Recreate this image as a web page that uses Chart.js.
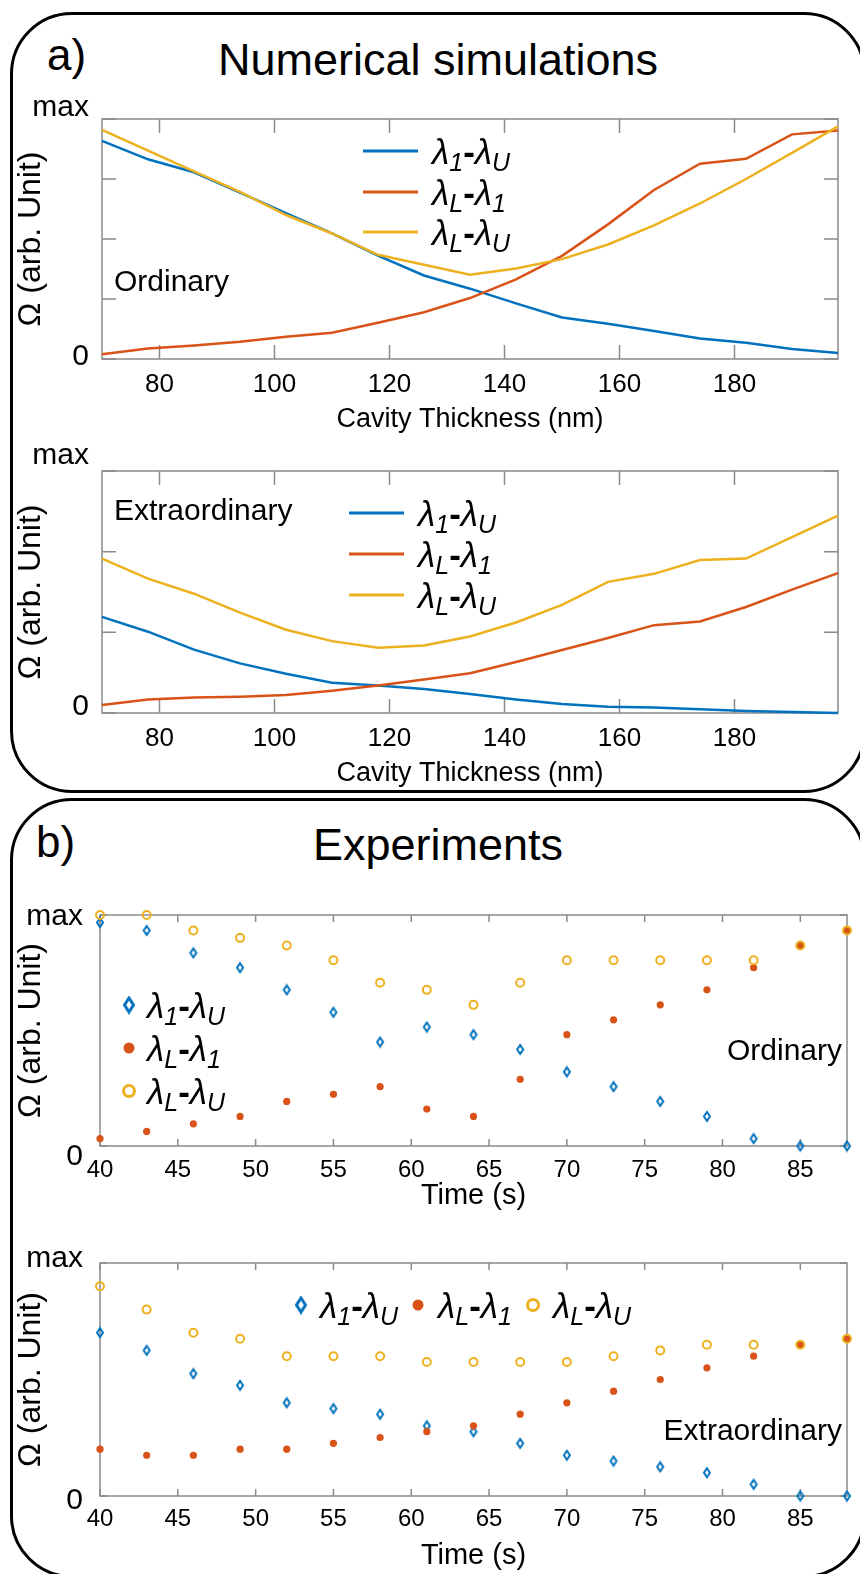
<!DOCTYPE html>
<html>
<head>
<meta charset="utf-8">
<script src="https://cdn.jsdelivr.net/npm/chart.js@4.4.1/dist/chart.umd.min.js"></script>
<style>
html, body { margin: 0; padding: 0; background: #fff; overflow: hidden; }
body { width: 860px; height: 1574px; position: relative; font-family: "Liberation Sans", Arial, sans-serif; }
.panel { position: absolute; left: 10px; width: 856px; border: 3px solid #000; border-radius: 62px; box-sizing: border-box; }
#panelA { top: 12px; height: 781px; }
#panelB { top: 798px; height: 780px; }
.tag { position: absolute; font-size: 44px; line-height: 1; }
.head { position: absolute; left: 0; width: 876px; text-align: center; font-size: 45px; line-height: 1; }
canvas { position: absolute; left: 0; }
</style>
</head>
<body>
<div class="panel" id="panelA"></div>
<div class="panel" id="panelB"></div>
<div class="tag" style="left:47px;top:33px">a)</div>
<div class="head" style="top:37px">Numerical simulations</div>
<div class="tag" style="left:36px;top:820px">b)</div>
<div class="head" style="top:822px">Experiments</div>

<canvas id="simOrd" width="860" height="352" style="top:88px"></canvas>
<canvas id="simExt" width="860" height="350" style="top:440px"></canvas>
<canvas id="expOrd" width="860" height="335" style="top:880px"></canvas>
<canvas id="expExt" width="860" height="346" style="top:1228px"></canvas>

<script>
// ---- data ----
const thickness = [70, 78, 86, 94, 102, 110, 118, 126, 134, 142, 150, 158, 166, 174, 182, 190, 198];
const thicknessTicks = [80, 100, 120, 140, 160, 180];

const simOrd1U = [0.909, 0.832, 0.778, 0.693, 0.608, 0.523, 0.431, 0.348, 0.293, 0.232, 0.173, 0.147, 0.117, 0.085, 0.068, 0.042, 0.025];
const simOrdL1 = [0.020, 0.044, 0.056, 0.072, 0.093, 0.109, 0.151, 0.195, 0.254, 0.332, 0.430, 0.561, 0.704, 0.814, 0.834, 0.936, 0.952];
const simOrdLU = [0.955, 0.868, 0.782, 0.696, 0.600, 0.523, 0.434, 0.393, 0.351, 0.377, 0.416, 0.477, 0.557, 0.648, 0.750, 0.859, 0.969];

const simExt1U = [0.397, 0.336, 0.262, 0.205, 0.162, 0.125, 0.114, 0.099, 0.079, 0.056, 0.037, 0.026, 0.023, 0.016, 0.008, 0.004, 0.000];
const simExtL1 = [0.033, 0.056, 0.064, 0.067, 0.074, 0.092, 0.114, 0.138, 0.164, 0.211, 0.260, 0.310, 0.363, 0.378, 0.438, 0.510, 0.578];
const simExtLU = [0.638, 0.555, 0.493, 0.415, 0.344, 0.297, 0.270, 0.279, 0.316, 0.374, 0.447, 0.542, 0.575, 0.632, 0.638, 0.727, 0.816];

const time = [40, 43, 46, 49, 52, 55, 58, 61, 64, 67, 70, 73, 76, 79, 82, 85, 88];
const timeTicks = [40, 45, 50, 55, 60, 65, 70, 75, 80, 85];

const expOrd1U = [0.967, 0.933, 0.836, 0.772, 0.676, 0.579, 0.450, 0.515, 0.482, 0.418, 0.321, 0.257, 0.193, 0.128, 0.032, 0, 0];
const expOrdL1 = [0.032, 0.063, 0.096, 0.128, 0.193, 0.224, 0.257, 0.160, 0.128, 0.289, 0.482, 0.546, 0.611, 0.676, 0.772, 0.868, 0.933];
const expOrdLU = [1, 1, 0.933, 0.901, 0.868, 0.804, 0.707, 0.676, 0.611, 0.707, 0.804, 0.804, 0.804, 0.804, 0.804, 0.868, 0.933];

const expExt1U = [0.701, 0.625, 0.525, 0.475, 0.400, 0.375, 0.351, 0.301, 0.276, 0.226, 0.175, 0.150, 0.125, 0.100, 0.050, 0, 0];
const expExtL1 = [0.201, 0.175, 0.175, 0.201, 0.201, 0.226, 0.251, 0.276, 0.301, 0.351, 0.400, 0.450, 0.500, 0.550, 0.600, 0.649, 0.675];
const expExtLU = [0.900, 0.800, 0.701, 0.675, 0.600, 0.600, 0.600, 0.575, 0.575, 0.575, 0.575, 0.600, 0.625, 0.649, 0.649, 0.649, 0.675];

const seriesNames = ["λ_1-λ_U", "λ_L-λ_1", "λ_L-λ_U"];
const yTicksQuarter = [0, 0.25, 0.5, 0.75, 1];
const yTicksThird = [0, 1 / 3, 2 / 3, 1];
const yTicksEnds = [0, 1];

const BLUE = "#0072BD";
const RED = "#D95319";
const YELLOW = "#EDB120";
const FONT = '"Liberation Sans", Arial, sans-serif';

Chart.defaults.font.family = FONT;
Chart.defaults.color = "#000";

function pairs(xs, ys) {
    return xs.map((x, i) => ({ x: x, y: ys[i] }));
}

function diamond(w, h, lw, color) {
    const c = document.createElement("canvas");
    c.width = w + lw + 2;
    c.height = h + lw + 2;
    const g = c.getContext("2d");
    const cx = c.width / 2, cy = c.height / 2;
    g.strokeStyle = color;
    g.lineWidth = lw;
    g.beginPath();
    g.moveTo(cx, cy - h / 2);
    g.lineTo(cx + w / 2, cy);
    g.lineTo(cx, cy + h / 2);
    g.lineTo(cx - w / 2, cy);
    g.closePath();
    g.stroke();
    return c;
}

const diamondMark = diamond(6, 9, 2, BLUE);
const diamondKey = diamond(9, 14, 3, BLUE);

// "λ_1" -> λ with subscript 1
function richText(ctx, str, x, y, size) {
    const base = y + size * 0.36;
    ctx.fillStyle = "#000";
    ctx.textBaseline = "alphabetic";
    ctx.textAlign = "left";
    for (let i = 0; i < str.length; i++) {
        let ch = str[i], sub = false;
        if (ch === "_") { sub = true; ch = str[++i]; }
        const fs = sub ? Math.round(size * 0.72) : size;
        ctx.font = (ch === "-" ? "bold " : "italic ") + fs + "px " + FONT;
        ctx.fillText(ch, x, sub ? base + size * 0.2 : base);
        x += ctx.measureText(ch).width;
    }
}

const framePlugin = {
    id: "frame",
    beforeDatasetsDraw(chart, args, opts) {
        const { ctx, chartArea: a, scales } = chart;
        const len = opts.tick;
        ctx.save();
        ctx.strokeStyle = "#8a8a8a";
        ctx.lineWidth = 1.5;
        ctx.strokeRect(a.left, a.top, a.right - a.left, a.bottom - a.top);
        ctx.beginPath();
        scales.x.ticks.forEach(t => {
            const px = scales.x.getPixelForValue(t.value);
            ctx.moveTo(px, a.bottom); ctx.lineTo(px, a.bottom - len);
            ctx.moveTo(px, a.top); ctx.lineTo(px, a.top + len);
        });
        scales.y.ticks.forEach(t => {
            const py = scales.y.getPixelForValue(t.value);
            ctx.moveTo(a.left, py); ctx.lineTo(a.left + len, py);
            ctx.moveTo(a.right, py); ctx.lineTo(a.right - len, py);
        });
        ctx.stroke();
        ctx.restore();
    }
};

const keyPlugin = {
    id: "key",
    afterDatasetsDraw(chart, args, opts) {
        if (!opts.items) return;
        const { ctx, chartArea: a } = chart;
        ctx.save();
        opts.items.forEach((it, i) => {
            const ds = chart.data.datasets[i];
            const y = a.top + it.y;
            if (opts.kind === "line") {
                ctx.strokeStyle = ds.borderColor;
                ctx.lineWidth = 3;
                ctx.beginPath();
                ctx.moveTo(a.left + it.x0, y);
                ctx.lineTo(a.left + it.x1, y);
                ctx.stroke();
            } else {
                const st = opts.marks[i];
                ctx.fillStyle = ds.backgroundColor;
                ctx.strokeStyle = ds.borderColor;
                ctx.lineWidth = st.borderWidth;
                Chart.helpers.drawPoint(ctx, st, a.left + it.mx, y);
            }
            richText(ctx, seriesNames[i], a.left + it.tx, y, opts.size);
        });
        ctx.restore();
    }
};

const notePlugin = {
    id: "note",
    afterDatasetsDraw(chart, args, opts) {
        if (!opts.text) return;
        const { ctx, chartArea: a } = chart;
        ctx.save();
        ctx.font = opts.size + "px " + FONT;
        ctx.fillStyle = "#000";
        ctx.textBaseline = "middle";
        ctx.textAlign = opts.align;
        const x = opts.align === "right" ? a.right - opts.x : a.left + opts.x;
        ctx.fillText(opts.text, x, a.top + opts.y);
        ctx.restore();
    }
};

function lineSets(xs, a, b, c) {
    const base = { fill: false, borderWidth: 2.5, pointRadius: 0, tension: 0, clip: false };
    return [
        Object.assign({ data: pairs(xs, a), borderColor: BLUE, backgroundColor: BLUE, order: 3 }, base),
        Object.assign({ data: pairs(xs, b), borderColor: RED, backgroundColor: RED, order: 2 }, base),
        Object.assign({ data: pairs(xs, c), borderColor: YELLOW, backgroundColor: YELLOW, order: 1 }, base)
    ];
}

function dotSets(xs, a, b, c) {
    return [
        { data: pairs(xs, a), pointStyle: diamondMark, pointRadius: 5, borderColor: BLUE, backgroundColor: "rgba(0,0,0,0)", order: 3, clip: false },
        { data: pairs(xs, b), pointStyle: "circle", pointRadius: 3.6, borderWidth: 0, borderColor: RED, backgroundColor: RED, order: 2, clip: false },
        { data: pairs(xs, c), pointStyle: "circle", pointRadius: 4, borderWidth: 2, borderColor: YELLOW, backgroundColor: "rgba(0,0,0,0)", order: 1, clip: false }
    ];
}

const keyMarks = [
    { pointStyle: diamondKey, radius: 7, borderWidth: 0, rotation: 0 },
    { pointStyle: "circle", radius: 5.5, borderWidth: 0, rotation: 0 },
    { pointStyle: "circle", radius: 5.5, borderWidth: 3, rotation: 0 }
];

function makeChart(id, c) {
    return new Chart(document.getElementById(id), {
        type: c.type,
        data: { datasets: c.datasets },
        options: {
            responsive: false,
            animation: false,
            devicePixelRatio: 1,
            events: [],
            layout: { padding: { top: c.padTop, right: c.padRight, left: 0, bottom: 0 } },
            plugins: {
                legend: { display: false },
                tooltip: { enabled: false },
                frame: { tick: c.tickLen },
                key: c.key,
                note: c.note
            },
            scales: {
                x: {
                    type: "linear",
                    min: c.xMin,
                    max: c.xMax,
                    afterBuildTicks: s => { s.ticks = c.xTicks.map(v => ({ value: v })); },
                    afterFit: s => { s.height = c.xHeight; },
                    grid: { display: false, drawTicks: false },
                    border: { display: false },
                    ticks: { font: { size: c.xFont }, padding: c.xPad, maxRotation: 0, autoSkip: false },
                    title: {
                        display: true,
                        text: c.xTitle,
                        font: { size: c.xTitleSize },
                        padding: { top: 0, bottom: c.xTitlePad }
                    }
                },
                y: {
                    type: "linear",
                    min: 0,
                    max: 1,
                    afterBuildTicks: s => { s.ticks = c.yTicks.map(v => ({ value: v })); },
                    afterFit: s => { s.width = c.yWidth; },
                    grid: { display: false, drawTicks: false },
                    border: { display: false },
                    ticks: {
                        font: { size: 30, lineHeight: 0.6 },
                        padding: c.yPad,
                        labelOffset: c.yShift,
                        autoSkip: false,
                        callback: v => (v === 0 ? "0" : v === 1 ? ["max", ""] : "")
                    },
                    title: {
                        display: true,
                        text: "Ω (arb. Unit)",
                        font: { size: 32 },
                        padding: { top: 12, bottom: 0 }
                    }
                }
            }
        },
        plugins: [framePlugin, keyPlugin, notePlugin]
    });
}

makeChart("simOrd", {
    type: "line",
    datasets: lineSets(thickness, simOrd1U, simOrdL1, simOrdLU),
    padTop: 27, padRight: 22, xHeight: 81, yWidth: 102, tickLen: 14,
    xMin: 70, xMax: 198, xTicks: thicknessTicks, xFont: 26, xPad: 10,
    xTitle: "Cavity Thickness (nm)", xTitleSize: 27, xTitlePad: 4,
    yTicks: yTicksQuarter, yPad: 13, yShift: -2,
    key: { kind: "line", size: 35, items: [
        { x0: 261, x1: 316, tx: 330, y: 32 },
        { x0: 261, x1: 316, tx: 330, y: 73 },
        { x0: 261, x1: 316, tx: 330, y: 113 }
    ] },
    note: { text: "Ordinary", x: 12, y: 164, align: "left", size: 30 }
});

makeChart("simExt", {
    type: "line",
    datasets: lineSets(thickness, simExt1U, simExtL1, simExtLU),
    padTop: 29, padRight: 22, xHeight: 77, yWidth: 102, tickLen: 14,
    xMin: 70, xMax: 198, xTicks: thicknessTicks, xFont: 26, xPad: 10,
    xTitle: "Cavity Thickness (nm)", xTitleSize: 27, xTitlePad: 0,
    yTicks: yTicksThird, yPad: 13, yShift: -6,
    key: { kind: "line", size: 35, items: [
        { x0: 247, x1: 302, tx: 316, y: 42 },
        { x0: 247, x1: 302, tx: 316, y: 83 },
        { x0: 247, x1: 302, tx: 316, y: 124 }
    ] },
    note: { text: "Extraordinary", x: 12, y: 41, align: "left", size: 30 }
});

makeChart("expOrd", {
    type: "scatter",
    datasets: dotSets(time, expOrd1U, expOrdL1, expOrdLU),
    padTop: 26, padRight: 13, xHeight: 69, yWidth: 100, tickLen: 7,
    xMin: 40, xMax: 88, xTicks: timeTicks, xFont: 24, xPad: 10,
    xTitle: "Time (s)", xTitleSize: 29, xTitlePad: 2,
    yTicks: yTicksEnds, yPad: 17, yShift: 11,
    key: { kind: "marker", size: 35, marks: keyMarks, items: [
        { mx: 29, tx: 47, y: 90 },
        { mx: 29, tx: 47, y: 133 },
        { mx: 29, tx: 47, y: 176 }
    ] },
    note: { text: "Ordinary", x: 5, y: 137, align: "right", size: 30 }
});

makeChart("expExt", {
    type: "scatter",
    datasets: dotSets(time, expExt1U, expExtL1, expExtLU),
    padTop: 28, padRight: 13, xHeight: 78, yWidth: 100, tickLen: 7,
    xMin: 40, xMax: 88, xTicks: timeTicks, xFont: 24, xPad: 9,
    xTitle: "Time (s)", xTitleSize: 29, xTitlePad: 1,
    yTicks: yTicksEnds, yPad: 17, yShift: 5,
    key: { kind: "marker", size: 35, marks: keyMarks, items: [
        { mx: 201, tx: 220, y: 42 },
        { mx: 318, tx: 338, y: 42 },
        { mx: 433, tx: 453, y: 42 }
    ] },
    note: { text: "Extraordinary", x: 5, y: 169, align: "right", size: 30 }
});
</script>
</body>
</html>
